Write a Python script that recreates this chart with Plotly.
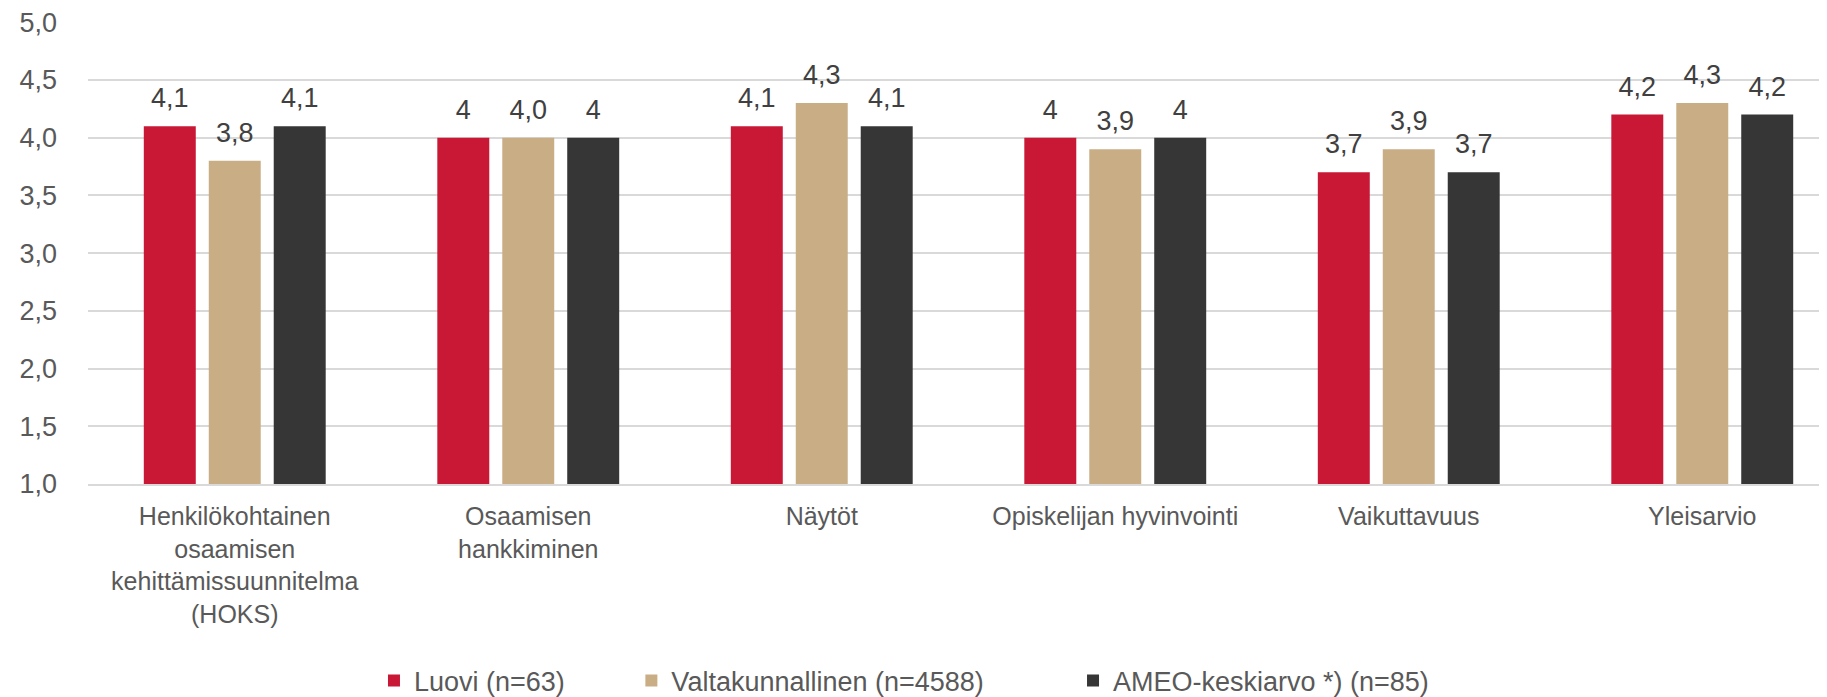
import plotly.graph_objects as go

categories = [
    "Henkilökohtainen<br>osaamisen<br>kehittämissuunnitelma<br>(HOKS)",
    "Osaamisen<br>hankkiminen",
    "Näytöt",
    "Opiskelijan hyvinvointi",
    "Vaikuttavuus",
    "Yleisarvio",
]
series_names = ["Luovi (n=63)", "Valtakunnallinen (n=4588)", "AMEO-keskiarvo *) (n=85)"]
luovi = [4.1, 4.0, 4.1, 4.0, 3.7, 4.2]
valtakunnallinen = [3.8, 4.0, 4.3, 3.9, 3.9, 4.3]
ameo = [4.1, 4.0, 4.1, 4.0, 3.7, 4.2]
luovi_labels = ["4,1", "4", "4,1", "4", "3,7", "4,2"]
valta_labels = ["3,8", "4,0", "4,3", "3,9", "3,9", "4,3"]
ameo_labels = ["4,1", "4", "4,1", "4", "3,7", "4,2"]
y_ticks = [1.0, 1.5, 2.0, 2.5, 3.0, 3.5, 4.0, 4.5, 5.0]
y_tick_labels = ["1,0", "1,5", "2,0", "2,5", "3,0", "3,5", "4,0", "4,5", "5,0"]

FONT = "Liberation Sans, Arial, sans-serif"
colors = ["#C91835", "#C9AE85", "#363636"]
values = [luovi, valtakunnallinen, ameo]
labels = [luovi_labels, valta_labels, ameo_labels]
legend_ids = ["legend", "legend2", "legend3"]
legend_x = [0.2012, 0.3427, 0.5855]

# page body has an 8px margin, so the figure is 8px smaller than the window
W, H = 1819, 689

fig = go.Figure()
for i, (name, vals, col) in enumerate(zip(series_names, values, colors)):
    fig.add_trace(go.Bar(
        x=categories, y=vals, name=name,
        marker=dict(color=col, line=dict(width=0)),
        offsetgroup=str(i), legend=legend_ids[i],
    ))
for i, (vals, labs) in enumerate(zip(values, labels)):
    fig.add_trace(go.Scatter(
        x=categories, y=vals, text=labs, mode="markers+text",
        marker=dict(size=18, opacity=0), textposition="top center",
        textfont=dict(family=FONT, size=27, color="#404040"),
        offsetgroup=str(i), showlegend=False, hoverinfo="skip", cliponaxis=False,
    ))

leg_common = dict(orientation="h", xanchor="left", xref="container",
                  y=1 - 673 / H, yanchor="middle", yref="container",
                  font=dict(family=FONT, size=27, color="#595959"), itemwidth=30,
                  bgcolor="rgba(0,0,0,0)")
fig.update_layout(
    width=W, height=H,
    margin=dict(l=80, r=0, t=14, b=213, autoexpand=False),
    plot_bgcolor="white", paper_bgcolor="white",
    barmode="group", bargap=0.336, bargroupgap=0.2,
    scattermode="group", scattergap=0.336,
    font=dict(family=FONT, size=27, color="#595959"),
    showlegend=True,
    legend=dict(x=legend_x[0], **leg_common),
    legend2=dict(x=legend_x[1], **leg_common),
    legend3=dict(x=legend_x[2], **leg_common),
)
fig.update_yaxes(range=[1, 5.002], tickvals=y_ticks, ticktext=y_tick_labels,
                 showgrid=True, gridcolor="#D9D9D9", gridwidth=2, zeroline=False,
                 showline=False, ticks="", ticklabelstandoff=30, automargin=False,
                 ticklabeloverflow="allow",
                 tickfont=dict(size=27, color="#595959"))
fig.update_xaxes(range=[-0.5, 5.425], showline=True, linecolor="#D9D9D9", linewidth=2,
                 ticks="", automargin=False,
                 ticklabelstandoff=9, tickfont=dict(size=25, color="#595959"), tickangle=0)

fig.write_html("out.html")
